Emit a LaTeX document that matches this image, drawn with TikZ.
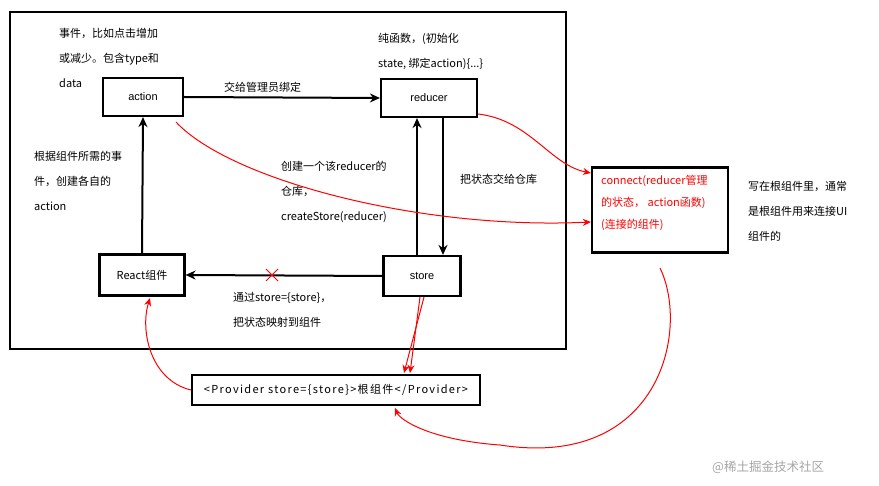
\documentclass[tikz,border=0pt]{standalone}
\usepackage{fontspec}
\setmainfont{Liberation Sans}
\newfontfamily\cjk{Noto Sans CJK SC}
\usetikzlibrary{arrows.meta}
\begin{document}
\begin{tikzpicture}[x=1pt,y=-1pt,
  box/.style={draw,line width=2.2pt,minimum height=38pt,inner sep=0pt},
  txt/.style={anchor=west,font=\cjk\fontsize{11}{13}\selectfont,inner sep=0pt,align=left},
  arr/.style={line width=2pt,-{Stealth[length=10pt,width=9pt]}},
  red/.style={draw=red,line width=1pt,-{Stealth[length=8pt,width=7pt]}}]
\useasboundingbox (0,0) rectangle (879,486);
\fill[white] (0,0) rectangle (879,486);
\draw[line width=2.4pt] (10,12) rectangle (566,349);
\node[box,minimum width=80pt,font=\fontsize{11}{13}\selectfont] (action) at (143,97) {action};
\node[box,minimum width=96pt,font=\fontsize{11}{13}\selectfont] (reducer) at (429,98) {reducer};
\node[box,minimum width=77pt,minimum height=40pt,font=\fontsize{11}{13}\selectfont] (store) at (422,276) {store};
\node[box,minimum width=85pt,minimum height=41pt,font=\cjk\fontsize{11}{13}\selectfont] (react) at (142,275) {React组件};
\node[box,minimum width=288pt,minimum height=30pt,font=\cjk\fontsize{11}{13}\selectfont] (prov) at (336,390) {\addfontfeatures{LetterSpace=12}<Provider store=\{store\}>根组件</Provider>};
\node[draw,line width=2.2pt,minimum width=136pt,minimum height=85pt,inner sep=0pt] (conn) at (660,210) {};
\node[txt,text=red,anchor=north west] (ctext) at (601,175) {connect(reducer管理\\[9pt]的状态， action函数)\\[9pt](连接的组件)};
\node[txt,anchor=north west] (t1) at (59,28) {事件，比如点击增加\\[12pt]或减少。包含type和\\[12pt]data};
\node[txt,anchor=north west] (t2) at (378,33) {纯函数，(初始化\\[12pt]state, 绑定action)\{...\}};
\node[txt] (t3) at (224,87) {交给管理员绑定};
\node[txt,anchor=north west] (t4) at (34,151) {根据组件所需的事\\[12pt]件，创建各自的\\[12pt]action};
\node[txt,anchor=north west] (t5) at (281,161) {创建一个该reducer的\\[12pt]仓库，\\[12pt]createStore(reducer)};
\node[txt] (t6) at (460,179) {把状态交给仓库};
\node[txt,anchor=north west] (t7) at (233,292) {通过store=\{store\}，\\[12pt]把状态映射到组件};
\node[txt,anchor=north west] (t8) at (748,181) {写在根组件里，通常\\[12pt]是根组件用来连接UI\\[12pt]组件的};
\node[txt,text=gray!70,font=\cjk\fontsize{12.5}{14}\selectfont] (wm) at (712,467) {@稀土掘金技术社区};
% black arrows
\draw[arr] (action.east) -- (reducer.west);
\draw[arr] (store.north -| 417,0) -- (reducer.south -| 417,0);
\draw[arr] (reducer.south -| 443,0) -- (store.north -| 443,0);
\draw[arr] (store.west) -- (react.east);
\draw[arr] (react.north) -- (action.south);
% red
\coordinate (x) at (272,275);
\draw[red,-] ([shift={(-6,-6)}]x) -- ([shift={(6,6)}]x) ([shift={(-6,6)}]x) -- ([shift={(6,-6)}]x);
\draw[red] (176,122) .. controls (230,180) and (420,230) .. (conn.west |- 0,222);
\draw[red] (478,114) .. controls (530,120) and (550,165) .. (conn.west |- 0,173);
\draw[red] (660,268) .. controls (690,330) and (660,470) .. (500,445) .. controls (430,440) and (400,420) .. (395,408);
\draw[red] (prov.west) .. controls (150,380) and (140,330) .. (150,298);
\draw[red] (store.south -| 420,0) -- (410,373);
\draw[red] (store.south -| 424,0) -- (404,373);
\end{tikzpicture}
\end{document}
